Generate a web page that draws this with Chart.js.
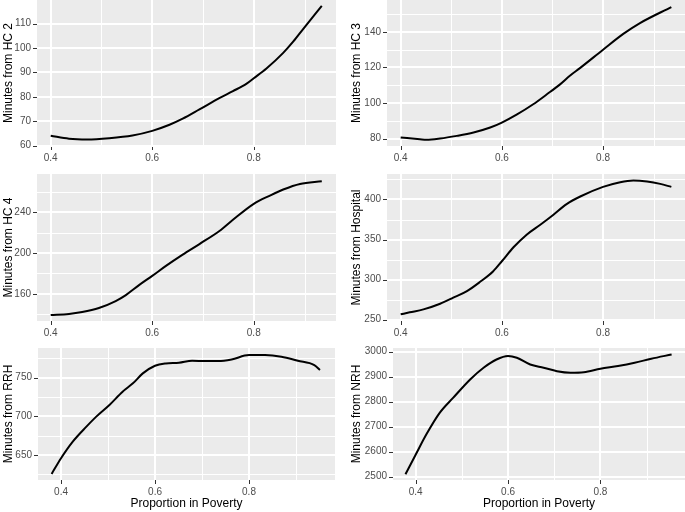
<!DOCTYPE html>
<html>
<head>
<meta charset="utf-8">
<script src="https://cdn.jsdelivr.net/npm/chart.js@4/dist/chart.umd.min.js"></script>
<style>
  body { margin: 0; background: #fff; }
  #wrap { position: relative; width: 685px; height: 512px; }
  canvas { position: absolute; }
</style>
</head>
<body>
<div id="wrap">
  <canvas id="c1" width="336" height="166" style="left:0;top:0"></canvas>
  <canvas id="c2" width="337" height="166" style="left:348px;top:0"></canvas>
  <canvas id="c3" width="336" height="174" style="left:0;top:166px"></canvas>
  <canvas id="c4" width="337" height="174" style="left:348px;top:166px"></canvas>
  <canvas id="c5" width="335" height="172" style="left:0;top:340px"></canvas>
  <canvas id="c6" width="337" height="172" style="left:348px;top:340px"></canvas>
</div>
<script>
// proportion in poverty (x) and minutes (y)
var povHC2 = [0.40, 0.436, 0.472, 0.515, 0.561, 0.60, 0.634, 0.66, 0.693, 0.733, 0.759, 0.786, 0.80, 0.825, 0.858, 0.878, 0.898, 0.934];
var minHC2 = [64.0, 62.8, 62.5, 63.0, 64.1, 66.0, 68.5, 71.0, 74.8, 79.5, 82.3, 85.4, 87.6, 91.6, 98.0, 102.7, 108.0, 117.3];

var povHC3 = [0.40, 0.438, 0.451, 0.478, 0.511, 0.544, 0.577, 0.60, 0.63, 0.662, 0.689, 0.715, 0.735, 0.755, 0.80, 0.84, 0.873, 0.935];
var minHC3 = [80.6, 79.6, 79.3, 80.0, 81.5, 83.4, 86.2, 89.0, 93.6, 99.3, 104.9, 110.5, 115.5, 119.8, 130.0, 138.9, 145.0, 154.0];

var povHC4 = [0.40, 0.436, 0.462, 0.495, 0.528, 0.548, 0.574, 0.60, 0.627, 0.66, 0.693, 0.733, 0.759, 0.80, 0.832, 0.858, 0.891, 0.934];
var minHC4 = [139.1, 140.1, 142.0, 146.0, 152.8, 158.7, 168.5, 177.6, 187.4, 198.5, 208.9, 222.0, 232.8, 248.5, 256.6, 262.5, 268.0, 270.7];

var povHosp = [0.40, 0.418, 0.445, 0.478, 0.504, 0.531, 0.557, 0.583, 0.60, 0.623, 0.649, 0.676, 0.702, 0.728, 0.755, 0.80, 0.834, 0.86, 0.887, 0.913, 0.935];
var minHosp = [256.6, 259.1, 262.8, 269.9, 277.4, 285.6, 297.2, 310.5, 322.9, 340.3, 356.1, 368.5, 381.0, 394.2, 403.7, 415.7, 421.6, 423.6, 422.4, 419.5, 415.7];

var povRRH = [0.38, 0.40, 0.425, 0.454, 0.475, 0.503, 0.531, 0.553, 0.574, 0.60, 0.623, 0.651, 0.679, 0.707, 0.735, 0.763, 0.80, 0.834, 0.869, 0.904, 0.939, 0.951];
var minRRH = [625.4, 645.7, 667.2, 686.6, 699.6, 714.7, 731.9, 742.7, 755.6, 765.5, 768.5, 769.4, 772.0, 771.6, 771.6, 773.7, 779.3, 779.3, 777.2, 772.0, 766.4, 759.9];

var povNRH = [0.378, 0.40, 0.423, 0.452, 0.481, 0.518, 0.547, 0.575, 0.60, 0.619, 0.648, 0.677, 0.706, 0.735, 0.764, 0.80, 0.838, 0.874, 0.91, 0.954];
var minNRH = [2509, 2587, 2668, 2755, 2815, 2889, 2936, 2969, 2983, 2976, 2949, 2936, 2922, 2916, 2918, 2932, 2943, 2956, 2972, 2989];

// panels: axis limits, major tick step on y, and box sizes
var panels = [
  { id: 'c1', xs: povHC2, ys: minHC2, title: 'Minutes from HC 2', xMin: 0.373, xMax: 0.962, yMin: 59.8, yMax: 119.7, yStep: 10, yW: 37, xH: 20, padTop: 0 },
  { id: 'c2', xs: povHC3, ys: minHC3, title: 'Minutes from HC 3', xMin: 0.373, xMax: 0.962, yMin: 75.8, yMax: 158, yStep: 20, yW: 39, xH: 20, padTop: 0 },
  { id: 'c3', xs: povHC4, ys: minHC4, title: 'Minutes from HC 4', xMin: 0.373, xMax: 0.962, yMin: 133.2, yMax: 277.8, yStep: 40, yW: 37, xH: 19, padTop: 8 },
  { id: 'c4', xs: povHosp, ys: minHosp, title: 'Minutes from Hospital', xMin: 0.373, xMax: 0.962, yMin: 248.3, yMax: 431.8, yStep: 50, yW: 39, xH: 19, padTop: 8 },
  { id: 'c5', xs: povRRH, ys: minRRH, title: 'Minutes from RRH', xMin: 0.351, xMax: 0.983, yMin: 617.5, yMax: 788.5, yStep: 50, yW: 38, xH: 32, padTop: 8, xTitle: 'Proportion in Poverty' },
  { id: 'c6', xs: povNRH, ys: minNRH, title: 'Minutes from NRH', xMin: 0.351, xMax: 0.983, yMin: 2486, yMax: 3015, yStep: 100, yW: 45, xH: 32, padTop: 8, xTitle: 'Proportion in Poverty' }
];

var FONT = "'Liberation Sans', Arial, sans-serif";

function isMajor(v, step) {
  return Math.abs(Math.round(v / step) * step - v) < step * 1e-6;
}

// ggplot-style panel: gray background, white major/minor grid, short tick marks
var ggPanel = {
  id: 'ggPanel',
  beforeDraw: function (chart) {
    var a = chart.chartArea, c = chart.ctx;
    c.save();
    c.fillStyle = '#EBEBEB';
    c.fillRect(a.left, a.top, a.right - a.left, a.bottom - a.top);
    c.restore();
  },
  beforeDatasetsDraw: function (chart, args, opts) {
    var a = chart.chartArea, c = chart.ctx;
    c.save();
    ['x', 'y'].forEach(function (k) {
      var s = chart.scales[k];
      var major = k === 'x' ? opts.xMajor : opts.yMajor;
      s.ticks.forEach(function (t) {
        var raw = s.getPixelForValue(t.value);
        var big = isMajor(t.value, major);
        // majors 2px wide, minors 1px
        var px = big ? Math.round(raw) : Math.round(raw) + 0.5;
        c.strokeStyle = '#FFFFFF';
        c.lineWidth = big ? 2 : 1;
        c.beginPath();
        if (k === 'x') { c.moveTo(px, a.top); c.lineTo(px, a.bottom); }
        else { c.moveTo(a.left, px); c.lineTo(a.right, px); }
        c.stroke();
        if (big) {
          var tp = Math.round(raw) + 0.5;
          c.strokeStyle = '#333333';
          c.lineWidth = 1;
          c.beginPath();
          if (k === 'x') { c.moveTo(tp, a.bottom); c.lineTo(tp, a.bottom + 4); }
          else { c.moveTo(a.left - 4, tp); c.lineTo(a.left, tp); }
          c.stroke();
        }
      });
    });
    c.restore();
  }
};

panels.forEach(function (p) {
  var pts = p.xs.map(function (x, i) { return { x: x, y: p.ys[i] }; });
  new Chart(document.getElementById(p.id), {
    type: 'line',
    data: {
      datasets: [{
        data: pts,
        borderColor: '#000000',
        borderWidth: 2,
        pointRadius: 0,
        fill: false,
        cubicInterpolationMode: 'monotone'
      }]
    },
    options: {
      responsive: false,
      animation: false,
      devicePixelRatio: 1,
      layout: { padding: { top: p.padTop, left: 0, right: 0, bottom: 0 } },
      plugins: {
        legend: { display: false },
        tooltip: { enabled: false },
        ggPanel: { xMajor: 0.2, yMajor: p.yStep }
      },
      scales: {
        x: {
          type: 'linear',
          min: p.xMin,
          max: p.xMax,
          border: { display: false },
          grid: { display: false, drawTicks: true, tickLength: 4 },
          ticks: {
            stepSize: 0.1,
            includeBounds: false,
            maxRotation: 0,
            padding: 2,
            color: '#4D4D4D',
            font: { family: FONT, size: 10 },
            callback: function (v) { return isMajor(v, 0.2) ? v.toFixed(1) : ''; }
          },
          title: {
            display: !!p.xTitle,
            text: p.xTitle || '',
            color: '#000000',
            font: { family: FONT, size: 12 },
            padding: { top: 0, bottom: 1 }
          },
          afterFit: function (s) { s.height = p.xH; s.paddingLeft = 0; s.paddingRight = 0; }
        },
        y: {
          type: 'linear',
          min: p.yMin,
          max: p.yMax,
          border: { display: false },
          grid: { display: false, drawTicks: true, tickLength: 4 },
          ticks: {
            stepSize: p.yStep / 2,
            includeBounds: false,
            padding: 2,
            color: '#4D4D4D',
            font: { family: FONT, size: 10 },
            callback: function (v) { return isMajor(v, p.yStep) ? String(Math.round(v)) : ''; }
          },
          title: {
            display: true,
            text: p.title,
            color: '#000000',
            font: { family: FONT, size: 12 },
            padding: { top: 1, bottom: 0 }
          },
          afterFit: function (s) { s.width = p.yW; s.paddingTop = 0; s.paddingBottom = 0; }
        }
      }
    },
    plugins: [ggPanel]
  });
});
</script>
</body>
</html>
